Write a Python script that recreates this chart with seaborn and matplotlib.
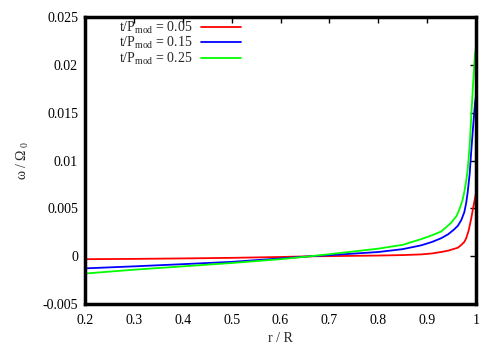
import numpy as np
import pandas as pd
import matplotlib
matplotlib.use("Agg")
import matplotlib.pyplot as plt
import seaborn as sns

sns.set_theme(style="white")
plt.rcParams['font.family'] = ['Liberation Serif', 'DejaVu Serif']
plt.rcParams['mathtext.fontset'] = 'custom'
plt.rcParams['mathtext.rm'] = 'Liberation Serif'
plt.rcParams['mathtext.it'] = 'Liberation Serif:italic'

# radius samples (r/R) and omega/Omega_0
r_red = [0.2, 0.3, 0.4, 0.5, 0.6, 0.66, 0.7, 0.8, 0.85, 0.888, 0.91, 0.929, 0.945, 0.955,
         0.963, 0.97, 0.976, 0.98, 0.985, 0.99, 0.994, 0.998, 1.0]
w_red = [-0.0003, -0.00027, -0.00022, -0.00016, -0.00007, 0.0, 0.00002, 0.00008, 0.00013,
         0.0002, 0.0003, 0.00045, 0.00062, 0.00078, 0.0009, 0.0012, 0.0015, 0.0019,
         0.0027, 0.0039, 0.0050, 0.0061, 0.0066]

r_blue = [0.2, 0.3, 0.4, 0.5, 0.6, 0.66, 0.7, 0.8, 0.85, 0.888, 0.91, 0.929, 0.943, 0.955,
          0.963, 0.97, 0.976, 0.98, 0.983, 0.987, 0.99, 0.994, 0.998, 1.0]
w_blue = [-0.00126, -0.00105, -0.00082, -0.00058, -0.00022, 0.0, 0.00012, 0.00045, 0.00075,
          0.00115, 0.0015, 0.0019, 0.0023, 0.0028, 0.0032, 0.0038, 0.0046, 0.0056, 0.0067,
          0.0086, 0.0108, 0.0135, 0.0160, 0.0168]

r_green = [0.2, 0.3, 0.4, 0.5, 0.6, 0.66, 0.7, 0.8, 0.85, 0.888, 0.91, 0.929, 0.949, 0.96,
           0.966, 0.972, 0.976, 0.98, 0.983, 0.987, 0.99, 0.994, 0.998, 1.0]
w_green = [-0.0018, -0.0014, -0.00105, -0.0007, -0.0003, 0.0, 0.00022, 0.0008, 0.0012,
           0.0018, 0.0022, 0.0026, 0.0035, 0.0042, 0.0049, 0.0058, 0.0067, 0.0079, 0.0091,
           0.0115, 0.0143, 0.0180, 0.0212, 0.0218]

labels = [r't/P$_{\mathrm{mod}}$ = 0.05', r't/P$_{\mathrm{mod}}$ = 0.15', r't/P$_{\mathrm{mod}}$ = 0.25']
colors = ['#ff0000', '#0000ff', '#00ff00']

df = pd.concat([
    pd.DataFrame({'r': r_red, 'w': w_red, 'case': labels[0]}),
    pd.DataFrame({'r': r_blue, 'w': w_blue, 'case': labels[1]}),
    pd.DataFrame({'r': r_green, 'w': w_green, 'case': labels[2]}),
])

fig = plt.figure(figsize=(5, 3.5), dpi=100)
ax = fig.add_axes([0.17, 0.131, 0.782, 0.82])
sns.lineplot(data=df, x='r', y='w', hue='case', palette=colors, lw=1.3,
             sort=False, estimator=None, ax=ax)

ax.set_xlim(0.2, 1.0)
ax.set_ylim(-0.005, 0.025)
ax.set_xticks(np.arange(0.2, 1.01, 0.1))
ax.set_xticklabels(['0.2', '0.3', '0.4', '0.5', '0.6', '0.7', '0.8', '0.9', '1'])
ax.set_yticks([-0.005, 0, 0.005, 0.01, 0.015, 0.02, 0.025])
ax.set_yticklabels(['-0.005', '0', '0.005', '0.01', '0.015', '0.02', '0.025'])
ax.set_xlabel('r / R', fontsize=10)
ax.set_ylabel(r'ω / Ω$_{\ 0}$', fontsize=10, labelpad=8)
ax.tick_params(direction='in', length=4, width=1, top=True, right=True,
               labelsize=10, colors='black', pad=5)
ax.tick_params(axis='x', pad=7)
for s in ax.spines.values():
    s.set_linewidth(2.5)
    s.set_color('black')

ax.legend(loc='upper left', bbox_to_anchor=(0.055, 1.035), frameon=False, markerfirst=False,
          handlelength=2.9, handletextpad=0.6, labelspacing=-0.05, fontsize=10, title=None)
fig.savefig('out.png', dpi=100)
